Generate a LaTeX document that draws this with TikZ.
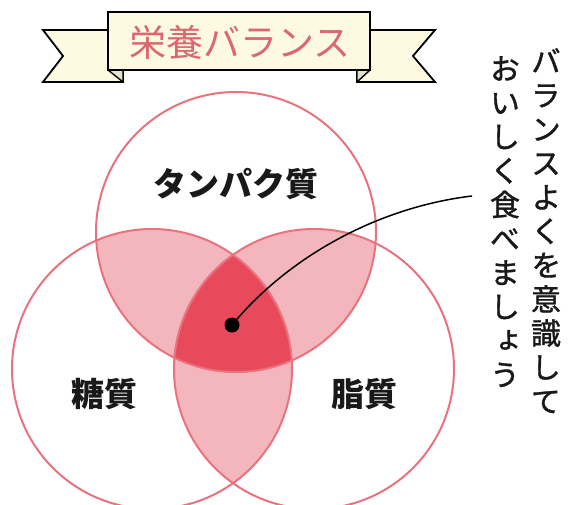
\documentclass[tikz,border=0pt]{standalone}
\usepackage{fontspec}
\newfontfamily\jp{Noto Sans CJK JP}
\newfontfamily\jpv{Noto Sans CJK JP}[RawFeature={+vert}, FakeBold=1.2]
\definecolor{ringc}{HTML}{E8737F}
\definecolor{lightp}{HTML}{F4B6BD}
\definecolor{darkp}{HTML}{E94A5B}
\definecolor{cream}{HTML}{FEFAE2}
\definecolor{fold}{HTML}{E6E2C8}
\definecolor{titlec}{HTML}{DB6770}
\begin{document}
\begin{tikzpicture}[x=1pt,y=-1pt,
  ring/.style={draw=ringc, line width=2pt},
  band/.style={draw=black, line width=1.8pt, fill=cream, line join=miter},
  foldpart/.style={draw=black, line width=1.4pt, fill=fold, line join=round},
  lbl/.style={font=\jp\bfseries\fontsize{33}{33}\selectfont, text=black!90, inner sep=0pt},
  vtext/.style={font=\jpv\fontsize{30}{34}\selectfont, align=center, inner sep=0pt, anchor=north, text=black!90}]
\fill[white] (0,0) rectangle (570,505);
\useasboundingbox (0,0) rectangle (570,505);
% circles
\coordinate (T) at (236,232);
\coordinate (L) at (152,369);
\coordinate (R) at (314,369);
\begin{scope}
  \clip (T) circle[radius=140];
  \fill[lightp] (L) circle[radius=140];
  \fill[lightp] (R) circle[radius=140];
\end{scope}
\begin{scope}
  \clip (L) circle[radius=140];
  \fill[lightp] (R) circle[radius=140];
\end{scope}
\begin{scope}
  \clip (T) circle[radius=140];
  \clip (L) circle[radius=140];
  \fill[darkp] (R) circle[radius=140];
\end{scope}
\draw[ring] (T) circle[radius=140];
\draw[ring] (L) circle[radius=140];
\draw[ring] (R) circle[radius=140];
% banner
\draw[band] (43,30) -- (123,30) -- (123,82) -- (43,82) -- (63,56) -- cycle;
\draw[band] (435,30) -- (357,30) -- (357,82) -- (435,82) -- (413,56) -- cycle;
\draw[foldpart] (108,70) -- (123,82) -- (123,70) -- cycle;
\draw[foldpart] (370,70) -- (357,82) -- (357,70) -- cycle;
\draw[band] (108,12) rectangle (370,70);
\node[font=\jp\fontsize{37}{37}\selectfont, text=titlec, inner sep=0pt] (title) at (240,42) {栄養バランス};
% labels
\node[lbl] (prot) at (236,184) {タンパク質};
\node[lbl] (carb) at (104,394) {糖質};
\node[lbl] (fat) at (364,394) {脂質};
% vertical texts
\node[vtext] (msgA) at (546,48) {バ\\ラ\\ン\\ス\\よ\\く\\を\\意\\識\\し\\て};
\node[vtext] (msgB) at (505,56) {お\\い\\し\\く\\食\\べ\\ま\\し\\ょ\\う};
% pointer
\node[circle, fill=black, minimum size=15pt, inner sep=0pt] (dot) at (232,325) {};
\coordinate (tip) at (472,196);
\draw[line width=1.5pt] (dot.center) .. controls (290,255) and (380,207) .. (tip);
\end{tikzpicture}
\end{document}
